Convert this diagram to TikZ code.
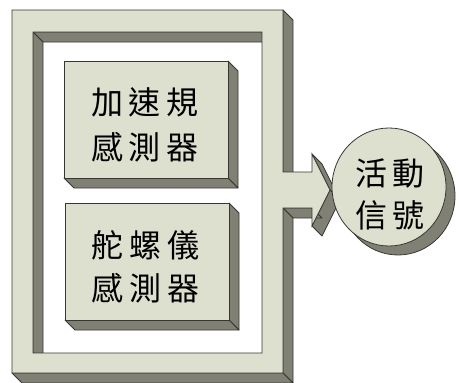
\documentclass[tikz,border=0pt]{standalone}
\usepackage{fontspec}
\usetikzlibrary{calc}
\newfontfamily\cjk{Noto Sans CJK TC}
\definecolor{facec}{RGB}{221,224,206}
\definecolor{sidec}{RGB}{128,129,116}
\definecolor{linec}{RGB}{55,55,50}
\newcommand\gapc{\hspace{6pt}}
\begin{document}
\begin{tikzpicture}[x=1pt,y=-1pt,
  side/.style={fill=sidec, draw=linec, line width=0.8pt, line join=round},
  front/.style={fill=facec, draw=linec, line width=0.8pt, line join=miter},
  txt/.style={inner sep=0pt, font=\cjk\fontsize{32}{36}\selectfont, text=black}]
\useasboundingbox (0,0) rectangle (459,383);
% ---------- outer frame: side faces ----------
\coordinate (A) at (12,10);   \coordinate (B) at (283,10);
\coordinate (C) at (283,172); \coordinate (D) at (312,172);
\coordinate (E) at (312,154); \coordinate (T) at (330,190);
\coordinate (F) at (312,226); \coordinate (G) at (312,208);
\coordinate (H) at (283,208); \coordinate (I) at (283,373);
\coordinate (J) at (12,373);
\coordinate (P) at (33,32);   \coordinate (Q) at (262,32);
\coordinate (R) at (262,353); \coordinate (S) at (33,353);
\path[side] (B) -- (C) -- ++(10,10) -- ($(B)+(10,10)$) -- cycle;
\path[side] (E) -- (T) -- ++(10,10) -- ($(E)+(10,10)$) -- cycle;
\path[side] (T) -- (F) -- ++(10,10) -- ($(T)+(10,10)$) -- cycle;
\path[side] (G) -- (H) -- ++(10,10) -- ($(G)+(10,10)$) -- cycle;
\path[side] (H) -- (I) -- ++(10,10) -- ($(H)+(10,10)$) -- cycle;
\path[side] (I) -- (J) -- ++(10,10) -- ($(I)+(10,10)$) -- cycle;
\path[side] (P) -- (Q) -- ++(10,10) -- ($(P)+(10,10)$) -- cycle;
\path[side] (P) -- (S) -- ++(10,10) -- ($(P)+(10,10)$) -- cycle;
% ---------- outer frame: front face ----------
\path[front, even odd rule] (A) -- (B) -- (C) -- (D) -- (E) -- (T) -- (F) -- (G) -- (H) -- (I) -- (J) -- cycle
  (P) -- (Q) -- (R) -- (S) -- cycle;
% ---------- box 1 ----------
\coordinate (b1a) at (64,61);  \coordinate (b1b) at (228,178);
\path[side] (228,61) -- (228,178) -- (238,188) -- (238,71) -- cycle;
\path[side] (64,178) -- (228,178) -- (238,188) -- (74,188) -- cycle;
\path[front] (b1a) rectangle (b1b);
\node[txt] (acc1) at (145,102) {加\gapc 速\gapc 規};
\node[txt] (acc2) at (145,147) {感\gapc 測\gapc 器};
% ---------- box 2 ----------
\coordinate (b2a) at (65,203);  \coordinate (b2b) at (229,320);
\path[side] (229,203) -- (229,320) -- (239,330) -- (239,213) -- cycle;
\path[side] (65,320) -- (229,320) -- (239,330) -- (75,330) -- cycle;
\path[front] (b2a) rectangle (b2b);
\node[txt] (gyr1) at (146,245) {舵\gapc 螺\gapc 儀};
\node[txt] (gyr2) at (146,288) {感\gapc 測\gapc 器};
% ---------- circle ----------
\path[side] (398,196) ellipse [x radius=57, y radius=59];
\path[front] (389,187) ellipse [x radius=57, y radius=59];
\node[txt] (sig1) at (390,173) {活\gapc 動};
\node[txt] (sig2) at (390,215) {信\gapc 號};
\end{tikzpicture}
\end{document}
